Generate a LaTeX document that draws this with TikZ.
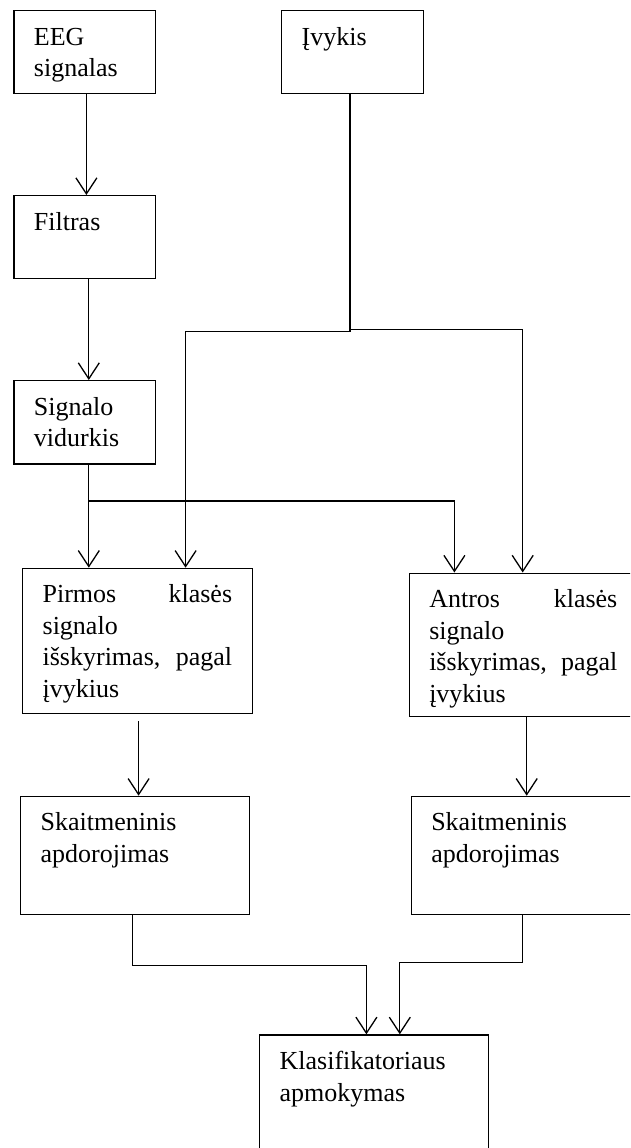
\documentclass[tikz,border=0pt]{standalone}
\usepackage{fontspec}
\setmainfont{Liberation Serif}
\usetikzlibrary{arrows.meta}
\usetikzlibrary{calc}

\newcommand{\boxtext}[3]{\parbox[b][#2][t]{#1}{\strut #3}}

\begin{document}
\begin{tikzpicture}[
  x=1pt, y=-1pt, line width=1.3pt,
  > = {Straight Barb[length=16pt,width=21pt]},
  box/.style = {draw, anchor=north west, inner xsep=20pt, inner ysep=12.5pt,
    font=\fontsize{26pt}{31.5pt}\selectfont}
  ]
  \useasboundingbox (0,0) rectangle (630,1148);
  \clip (0,0) rectangle (630,1148);

	\node[box] (eeg) at (13.3,10) {\boxtext{101.4pt}{57.7pt}{EEG\\signalas}};
	\node[box] (ivykis) at (281,10) {\boxtext{101.6pt}{57.7pt}{Įvykis}};
	\node[box] (filtras) at (13.3,195) {\boxtext{101.4pt}{57.7pt}{Filtras}};
	\node[box] (vidurkis) at (13.3,380) {\boxtext{101.4pt}{58.3pt}{Signalo\\vidurkis}};

	\node[box] (pirmos) at (22,567.7) {\boxtext{189.5pt}{120pt}{Pirmos\hfill klasės\\signalo\\išskyrimas,\hfill pagal\\įvykius}};
	\node[box] (antros) at (408.6,572.5) {\boxtext{188.1pt}{118.5pt}{Antros\hfill klasės\\signalo\\išskyrimas,\hfill pagal\\įvykius}};

	\node[box] (skait1) at (20,795.7) {\boxtext{188.7pt}{93.3pt}{Skaitmeninis\\apdorojimas}};
	\node[box] (skait2) at (410.6,795.7) {\boxtext{188.7pt}{93.3pt}{Skaitmeninis\\apdorojimas}};

	\node[box] (klas) at (259,1034.3) {\boxtext{188.7pt}{115pt}{Klasifikatoriaus\\apmokymas}};

	% bends of the connectors
	\coordinate (ea) at (86.4,0);
	\coordinate (eb) at (88.8,0);
	\coordinate (ev) at (350,0);
	\coordinate (evl) at (185.6,331.7);
	\coordinate (evr) at (522.7,329.3);
	\coordinate (sv) at (88.8,501);
	\coordinate (svr) at (454.4,501);
	\coordinate (pa) at (138.6,0);
	\coordinate (aa) at (526.7,0);
	\coordinate (sl) at (132.2,0);
	\coordinate (sr) at (522.7,0);
	\coordinate (kl) at (366.4,965.3);
	\coordinate (kr) at (399.8,962.7);

	\draw[->] (eeg.south -| ea) -- (filtras.north -| ea);
	\draw[->] (filtras.south -| eb) -- (vidurkis.north -| eb);

	\draw[->] (ivykis.south -| ev) |- (evl) -- (evl |- pirmos.north);
	\draw[->] (ivykis.south -| ev) |- (evr) -- (evr |- antros.north);

	\draw[->] (vidurkis.south -| sv) -- (sv |- pirmos.north);
	\draw[->] (sv) -- (svr) -- (svr |- antros.north);

	\draw[->, shorten <=7pt] (pirmos.south -| pa) -- (skait1.north -| pa);
	\draw[->] (antros.south -| aa) -- (skait2.north -| aa);

	\draw[->] (skait1.south -| sl) |- (kl) -- (kl |- klas.north);
	\draw[->] (skait2.south -| sr) |- (kr) -- (kr |- klas.north);
\end{tikzpicture}
\end{document}
